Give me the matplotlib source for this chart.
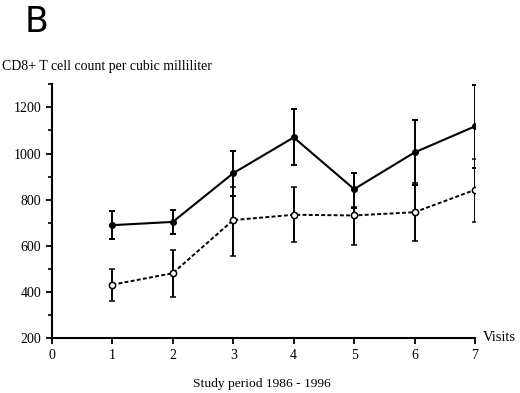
import matplotlib
matplotlib.use("Agg")
import matplotlib.pyplot as plt
from matplotlib.ticker import MultipleLocator

visits = [1, 2, 3, 4, 5, 6, 7]
solid_mean = [690, 704, 915, 1070, 846, 1005, 1118]
solid_err_hi = [61, 52, 97, 124, 72, 139, 180]
solid_err_lo = [62, 53, 99, 120, 80, 140, 181]
open_mean = [432, 482, 712, 735, 732, 746, 843]
open_err_hi = [67, 101, 145, 121, 36, 125, 134]
open_err_lo = [69, 104, 154, 120, 126, 125, 139]

serif = ["Liberation Serif", "DejaVu Serif"]

fig = plt.figure(figsize=(5.2, 3.93), dpi=100)
ax = fig.add_axes([0.0998, 0.1392, 0.8137, 0.6463])

ax.errorbar(visits, solid_mean, yerr=[solid_err_lo, solid_err_hi], color="black",
            lw=1.5, ls="-", marker="o", ms=4, mfc="black", mec="black",
            elinewidth=1.4, capsize=2.5, capthick=1.4, zorder=3)
ax.errorbar(visits, open_mean, yerr=[open_err_lo, open_err_hi], color="black",
            lw=1.4, ls=(0, (2, 1.2)), marker="o", ms=4.5, mfc="white", mec="black",
            mew=1.1, elinewidth=1.4, capsize=2.5, capthick=1.4, zorder=4)

ax.set_xlim(0, 7)
ax.set_ylim(200, 1300)
ax.set_xticks(range(0, 8))
ax.yaxis.set_major_locator(MultipleLocator(200))
ax.set_yticks([300, 500, 700, 900, 1100, 1300], minor=True)
for s in ["top", "right"]:
    ax.spines[s].set_visible(False)
for s in ["left", "bottom"]:
    ax.spines[s].set_linewidth(1.5)
ax.tick_params(axis="both", which="major", direction="out", length=4, width=1.3,
               labelsize=10, pad=3.5)
ax.tick_params(axis="y", which="minor", direction="out", length=3, width=1.2)
for lab in ax.get_xticklabels() + ax.get_yticklabels():
    lab.set_family(serif)

fig.text(0.048, 0.918, "B", fontsize=25, family="DejaVu Sans", ha="left", va="baseline")
fig.text(0.004, 0.822, "CD8+ T cell count per cubic milliliter", fontsize=10,
         family=serif, ha="left", va="baseline")
fig.text(0.928, 0.132, "Visits", fontsize=10.5, family=serif, ha="left", va="baseline")
fig.text(0.371, 0.014, "Study period 1986 - 1996", fontsize=9.7, family=serif,
         ha="left", va="baseline")

fig.savefig("out.png", dpi=100)
